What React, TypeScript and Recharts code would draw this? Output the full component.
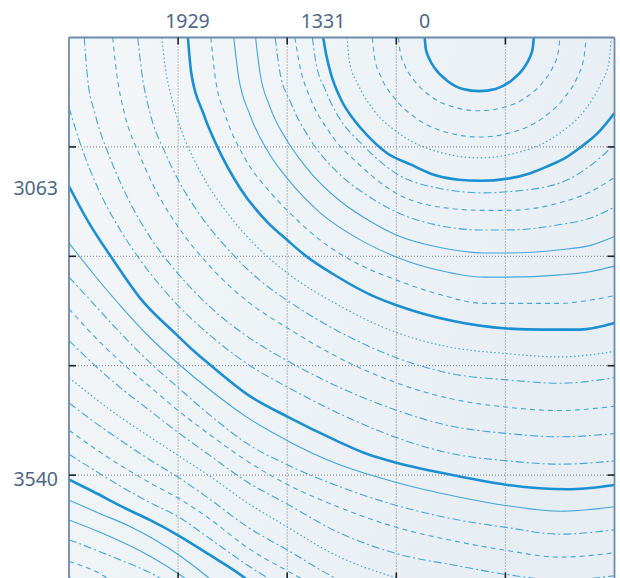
import { LineChart, Line, XAxis, YAxis, CartesianGrid } from "recharts";

// contour lines as [x, y] in plot units: 0-500 across, 0-500 down from the top edge
const t1 = [[326,0],[327,10],[330,19],[336,29],[346,39],[361,47],[376,49],[391,47],[406,39],[416,29],[422,19],[425,10],[426,0]];
const a1 = [[302,0],[303.5,13],[308,26],[317,40],[332,54],[354,64],[376,67],[398,64],[420,54],[435,40],[444,26],[448.5,13],[450,0]];
const a2 = [[278,0],[280,18],[286,36],[298,55],[317,73],[347,87],[376,91],[405,87],[435,73],[454,55],[466,36],[472,18],[474,0]];
const a3 = [[255,0],[257,22],[265,43],[279,66],[303,88],[340,105],[376,110],[412,105],[449,88],[473,66],[487,43],[495,22],[497,0]];
const t2 = [[233,0],[236,17],[240,33],[250,58],[261,75],[273,89],[292,106],[313,116],[336,126],[357,130],[377,131],[402,129],[423,124],[438,118],[455,110],[468,101],[485,87],[500,69]];
const b1 = [[223,0],[226,21],[235,48],[248,74],[267,96],[301,125],[340,138],[380,142],[402,141],[450,133],[478,117],[500,98]];
const b2 = [[207,0],[212,28],[221,55],[239,87],[267,117],[301,143],[340,155],[380,158],[402,158],[450,151],[478,141],[500,128]];
const b3 = [[189,0],[193,30],[203,59],[221,93],[248,125],[276,146],[301,160],[340,172],[380,176],[402,176],[450,171],[478,165],[500,155]];
const b4 = [[171,0],[175,32],[184,63],[201,96],[221,123],[248,149],[276,168],[301,181],[340,192],[380,197],[402,197],[450,194],[478,190],[500,182]];
const b5 = [[151,0],[155,33],[166,71],[184,107],[201,130],[230,160],[267,185],[301,201],[340,213],[380,219],[402,219],[450,217],[478,214],[500,209]];
const b6 = [[130,0],[134,36],[143,70],[161,110],[184,141],[201,159],[230,185],[267,208],[301,222],[340,235],[380,243],[402,243],[450,243],[478,240],[500,236]];
const t3 = [[109,0],[112,32],[123,69],[136,100],[157,138],[182,169],[201,186],[215,198],[245,218],[276,235],[301,245],[351,259],[401,266],[435,267],[468,267],[500,261]];
const c1 = [[85,0],[88,26],[93,51],[102,82],[120,122],[148,164],[175,194],[201,216],[244,243],[301,270],[349,283],[402,289],[450,292],[500,287]];
const c2 = [[63,0],[67,34],[74,68],[88,105],[100,130],[120,162],[148,196],[175,222],[201,241],[244,267],[301,293],[349,307],[402,313],[450,316],[500,311]];
const c3 = [[40,0],[44,35],[51,70],[65,108],[83,146],[100,173],[129,209],[166,243],[201,266],[244,291],[301,316],[349,330],[402,338],[450,341],[500,337]];
const c4 = [[14,0],[17,37],[24,70],[38,111],[56,151],[74,182],[100,216],[129,246],[166,275],[201,296],[244,318],[301,341],[349,355],[402,362],[450,365],[500,362]];
const c5 = [[0,64],[10,96],[28,141],[47,176],[65,203],[83,226],[100,245],[129,272],[166,300],[201,320],[244,342],[301,366],[349,380],[402,387],[450,390],[500,387]];
const t4 = [[0,136],[18,169],[41,204],[65,238],[99,272],[116,288],[129,299],[163,326],[201,347],[244,368],[274,381],[301,389],[357,401],[402,409],[457,413],[500,409]];
const d1 = [[0,188],[24,218],[47,245],[74,274],[100,298],[129,322],[163,347],[201,369],[244,389],[301,407],[357,420],[402,428],[450,433],[500,429]];
const d2 = [[0,219],[24,245],[47,270],[74,297],[100,320],[129,345],[163,371],[201,391],[244,409],[301,428],[357,441],[402,448],[450,454],[500,450]];
const d3 = [[0,248],[24,274],[47,296],[74,319],[100,341],[129,363],[163,387],[201,409],[244,428],[301,448],[357,461],[402,469],[450,475],[500,471]];
const d4 = [[0,277],[24,300],[47,320],[74,341],[100,361],[129,382],[163,406],[201,427],[244,451],[301,472],[357,483],[402,491],[450,496],[500,492]];
const d5 = [[0,311],[24,330],[47,347],[74,365],[100,382],[129,401],[163,425],[201,448],[244,473],[301,494],[357,507],[402,515]];
const d6 = [[0,334],[24,352],[47,368],[74,386],[100,402],[129,422],[163,447],[201,469],[244,494],[301,515]];
const d7 = [[0,359],[24,376],[47,391],[74,407],[100,421],[129,440],[163,466],[201,488],[244,511]];
const d8 = [[0,381],[24,396],[47,410],[74,425],[100,438],[129,458],[163,482],[201,505]];
const t5 = [[0,404],[22,415],[53,431],[74,441],[100,455],[129,473],[157,491],[175,505]];
const e1 = [[0,423],[28,435],[56,447],[102,474],[127,493],[137,501]];
const e2 = [[0,441],[28,452],[74,474],[106,494],[116,501]];
const e3 = [[0,459],[38,474],[83,494],[94,501]];
const e4 = [[0,479],[28,490],[45,501]];
const e5 = [[0,493],[17,501]];

const contours = [
  { id: "t1", pts: t1, kind: "thick" },
  { id: "a1", pts: a1, kind: "dashed" },
  { id: "a2", pts: a2, kind: "dashed" },
  { id: "a3", pts: a3, kind: "dotted" },
  { id: "t2", pts: t2, kind: "thick" },
  { id: "b1", pts: b1, kind: "dashdot" },
  { id: "b2", pts: b2, kind: "dashed" },
  { id: "b3", pts: b3, kind: "dashdot" },
  { id: "b4", pts: b4, kind: "solid" },
  { id: "b5", pts: b5, kind: "solid" },
  { id: "b6", pts: b6, kind: "dashed" },
  { id: "t3", pts: t3, kind: "thick" },
  { id: "c1", pts: c1, kind: "dotted" },
  { id: "c2", pts: c2, kind: "dashdot" },
  { id: "c3", pts: c3, kind: "dashed" },
  { id: "c4", pts: c4, kind: "dashdot" },
  { id: "c5", pts: c5, kind: "dashdot" },
  { id: "t4", pts: t4, kind: "thick" },
  { id: "d1", pts: d1, kind: "solid" },
  { id: "d2", pts: d2, kind: "dashdot" },
  { id: "d3", pts: d3, kind: "dashed" },
  { id: "d4", pts: d4, kind: "dashdot" },
  { id: "d5", pts: d5, kind: "dotted" },
  { id: "d6", pts: d6, kind: "dashdot" },
  { id: "d7", pts: d7, kind: "dashed" },
  { id: "d8", pts: d8, kind: "dashdot" },
  { id: "t5", pts: t5, kind: "thick" },
  { id: "e1", pts: e1, kind: "solid" },
  { id: "e2", pts: e2, kind: "solid" },
  { id: "e3", pts: e3, kind: "dashdot" },
  { id: "e4", pts: e4, kind: "dashed" },
  { id: "e5", pts: e5, kind: "dotted" },
];

// contour labels sit where the thick lines meet the top and left edges
const topLabelPos = [108.6, 232.8, 325.9];
const topLabels = ["1929", "1331", "0"];
const leftLabelPos = [137.6, 403.6];
const leftLabels = ["3063", "3540"];
const gridTicks = [100, 200, 300, 400];

const styles: Record<string, { stroke: string; width: number; dash?: string }> = {
  thick: { stroke: "#1a8fd1", width: 2.6 },
  solid: { stroke: "#43a5dd", width: 1.1 },
  dashed: { stroke: "#43a5dd", width: 1.1, dash: "5 4" },
  dashdot: { stroke: "#43a5dd", width: 1.1, dash: "8 3 2 3" },
  dotted: { stroke: "#43a5dd", width: 1.2, dash: "1.5 2.5" },
};

const frame = { stroke: "#6d8cab", strokeWidth: 1.8 };
const tickMark = { stroke: "#222", strokeWidth: 1.6 };
const labelStyle = { fill: "#4d6887", fontSize: 19.5, fontFamily: "Noto Sans" };
// tick marks only, no text
const noLabel = () => <g />;

export default function App() {
  return (
    <div style={{ position: "absolute", left: 0, top: 0, width: 620, height: 578, overflow: "hidden", background: "#fff" }}>
      <LineChart width={620} height={600} margin={{ top: 0, right: 5.5, bottom: 15.5, left: 0 }}>
        <defs>
          <linearGradient id="plotBg" x1="0" y1="0" x2="1" y2="0.4">
            <stop offset="0%" stopColor="#f4f7f9" />
            <stop offset="100%" stopColor="#e7eef3" />
          </linearGradient>
        </defs>
        <XAxis
          xAxisId="lab"
          orientation="top"
          type="number"
          dataKey="x"
          domain={[0, 500]}
          allowDataOverflow
          height={37.5}
          ticks={topLabelPos}
          interval={0}
          tickFormatter={(v) => topLabels[topLabelPos.indexOf(v)]}
          tick={labelStyle}
          tickSize={0}
          tickMargin={9.5}
          tickLine={false}
          axisLine={false}
        />
        <YAxis
          yAxisId="lab"
          orientation="left"
          type="number"
          domain={[0, 500]}
          reversed
          allowDataOverflow
          width={69}
          ticks={leftLabelPos}
          interval={0}
          tickFormatter={(v) => leftLabels[leftLabelPos.indexOf(v)]}
          tick={labelStyle}
          tickSize={0}
          tickMargin={11}
          tickLine={false}
          axisLine={false}
        />
        <XAxis xAxisId="top" orientation="top" mirror type="number" dataKey="x" domain={[0, 500]} allowDataOverflow
          ticks={gridTicks} interval={0} tick={noLabel} tickSize={7} tickLine={tickMark} axisLine={frame} />
        <XAxis xAxisId="bottom" orientation="bottom" mirror type="number" dataKey="x" domain={[0, 500]} allowDataOverflow
          ticks={gridTicks} interval={0} tick={noLabel} tickSize={12} tickLine={tickMark} axisLine={frame} />
        <YAxis yAxisId="left" orientation="left" mirror type="number" domain={[0, 500]} reversed allowDataOverflow
          ticks={gridTicks} interval={0} tick={noLabel} tickSize={7} tickLine={tickMark} axisLine={frame} />
        <YAxis yAxisId="right" orientation="right" mirror type="number" domain={[0, 500]} reversed allowDataOverflow
          ticks={gridTicks} interval={0} tick={noLabel} tickSize={7} tickLine={tickMark} axisLine={frame} />
        <CartesianGrid xAxisId="top" yAxisId="left" fill="url(#plotBg)" stroke="#7c7c7c" strokeDasharray="1 2" />
        {contours.map((c) => {
          const s = styles[c.kind];
          return (
            <Line
              key={c.id}
              xAxisId="top"
              yAxisId="left"
              data={c.pts.map(([x, y]) => ({ x, y }))}
              dataKey="y"
              type="monotone"
              stroke={s.stroke}
              strokeWidth={s.width}
              strokeDasharray={s.dash}
              dot={false}
              activeDot={false}
              isAnimationActive={false}
            />
          );
        })}
      </LineChart>
    </div>
  );
}
